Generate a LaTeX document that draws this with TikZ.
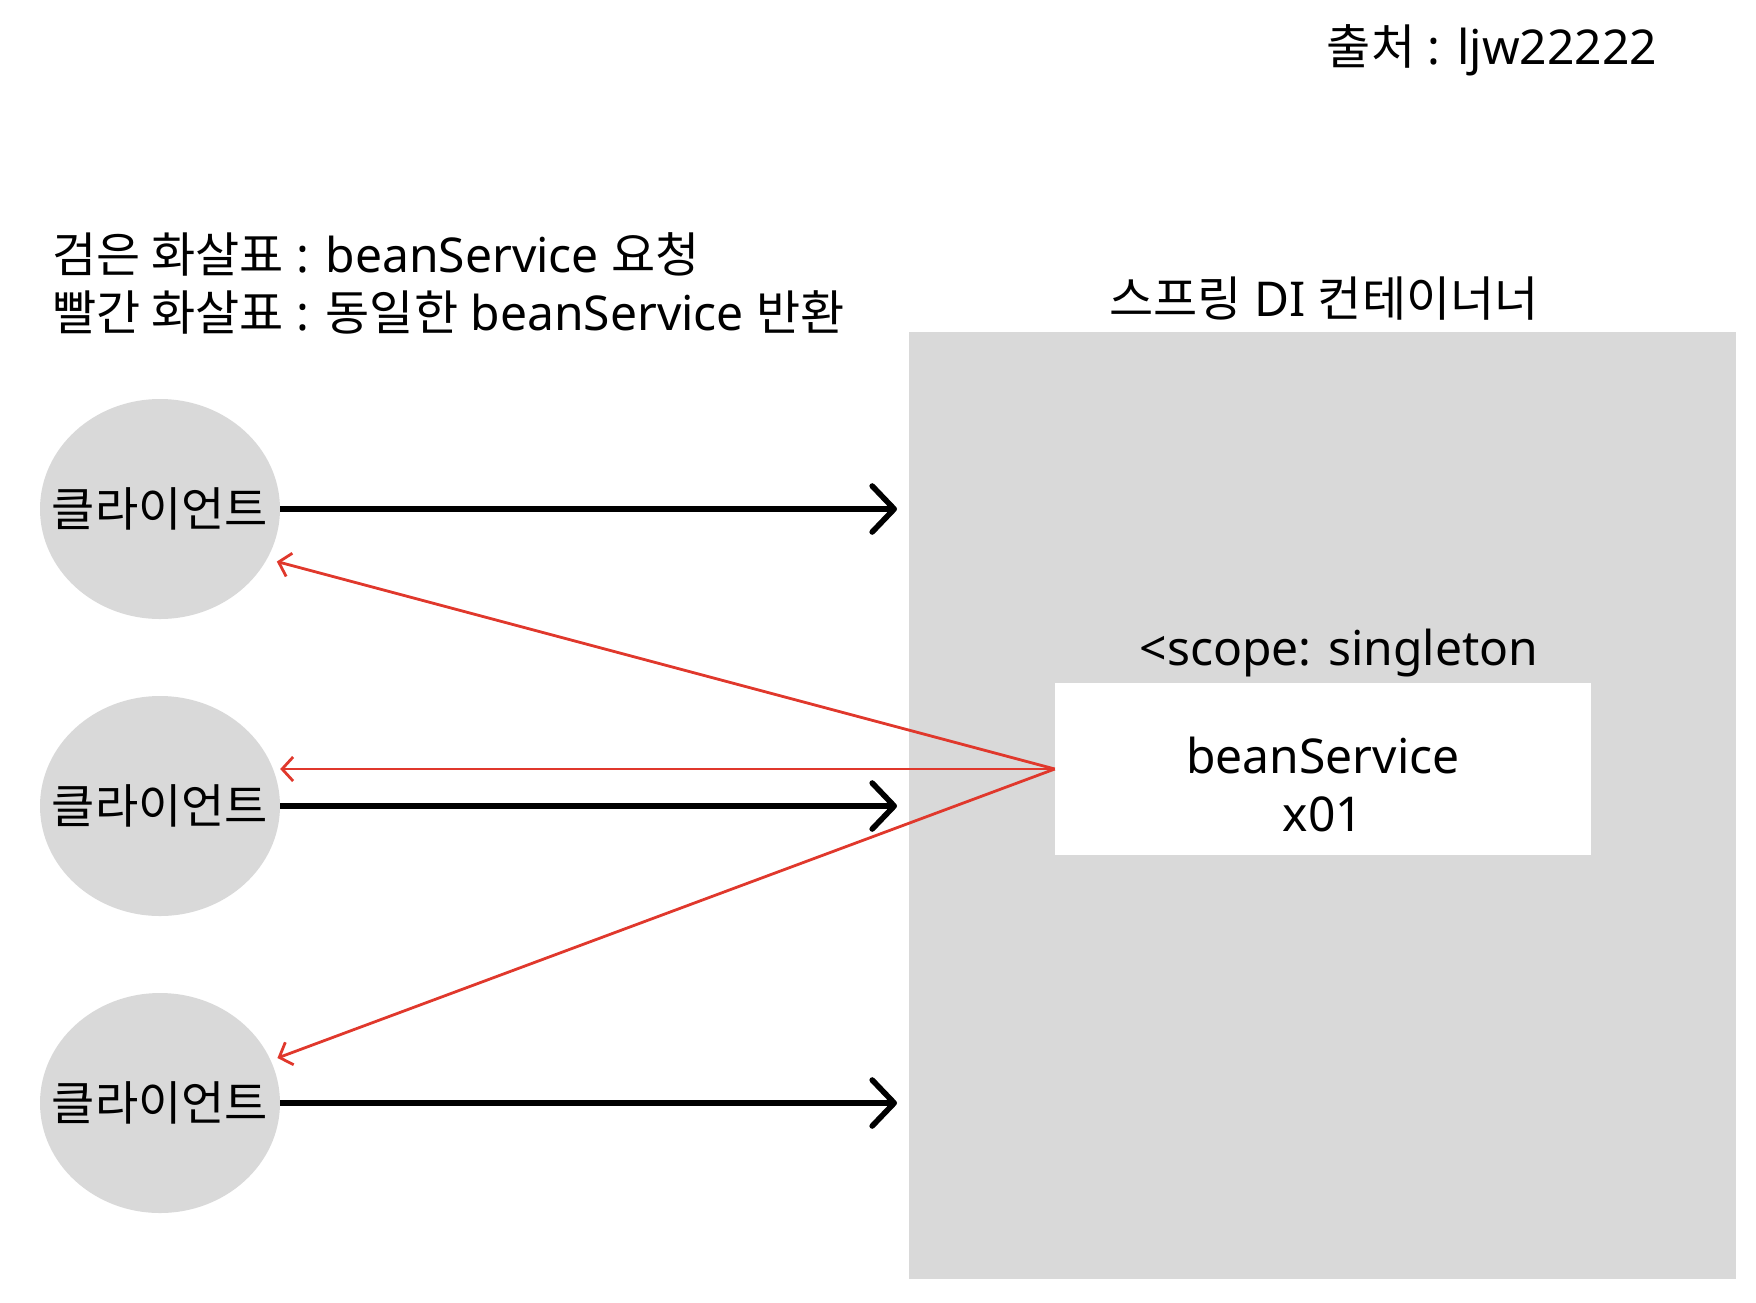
\documentclass[tikz,border=0pt]{standalone}
\usepackage{fontspec}
\setmainfont{Noto Sans}
\newfontfamily\kr{Noto Sans CJK KR}
\usetikzlibrary{shapes.geometric,arrows.meta}
\definecolor{boxgray}{RGB}{217,217,217}
\definecolor{retred}{RGB}{224,56,44}
\begin{document}
\begin{tikzpicture}[x=1pt,y=-1pt,
	    txt/.style={inner sep=0pt, font=\fontsize{48}{58}\selectfont},
	    client/.style={ellipse, fill=boxgray, minimum width=240pt, minimum height=220pt, inner sep=0pt,
	        label={[font=\kr\fontsize{47}{56}\selectfont]center:클라이언트}},
	    req/.style={line width=5.6pt, -{Straight Barb[length=22pt,width=46pt,round]}},
	    ret/.style={retred, line width=2.8pt, -{Straight Barb[length=11pt,width=24pt]}}]
	    \useasboundingbox (0,0) rectangle (1756,1302);
	    \node[txt] (src) at (1492,50) {{\kr 출처} : ljw22222};
	    \node[txt, anchor=west] (black) at (52,254) {{\kr 검은 화살표} : beanService {\kr 요청}};
	    \node[txt, anchor=west] (red) at (52,312) {{\kr 빨간 화살표} : {\kr 동일한} beanService {\kr 반환}};
	    % container
	    \node[fill=boxgray, minimum width=827pt, minimum height=947pt, inner sep=0pt] (di) at (1322.5,805.5) {};
	    \node[txt] (ditxt) at (1324,299) {{\kr 스프링} DI {\kr 컨테이너너}};
	    \node[txt] (scope) at (1339,653) {<scope: singleton};
	    \node[fill=white, minimum width=536pt, minimum height=172pt, inner sep=0pt] (bean) at (1323,769) {};
	    \node[txt, align=center] (beantxt) at ([yshift=-15pt]bean.center) {beanService\\x01};
	    % clients
	    \node[client] (c1) at (160,509) {};
	    \node[client] (c2) at (160,806) {};
	    \node[client] (c3) at (160,1103) {};
	    \coordinate (r1) at (897,509);
	    \coordinate (r2) at (897,806);
	    \coordinate (r3) at (897,1103);
	    \draw[req] (c1) -- (r1);
	    \draw[req] (c2) -- (r2);
	    \draw[req] (c3) -- (r3);
	    \draw[ret, shorten >=10pt] (bean.west) -- (c1.-25);
	    \draw[ret] (bean.west) -- (bean.west -| c2.east);
	    \draw[ret, shorten >=7pt] (bean.west) -- (c3.21);
\end{tikzpicture}
\end{document}
